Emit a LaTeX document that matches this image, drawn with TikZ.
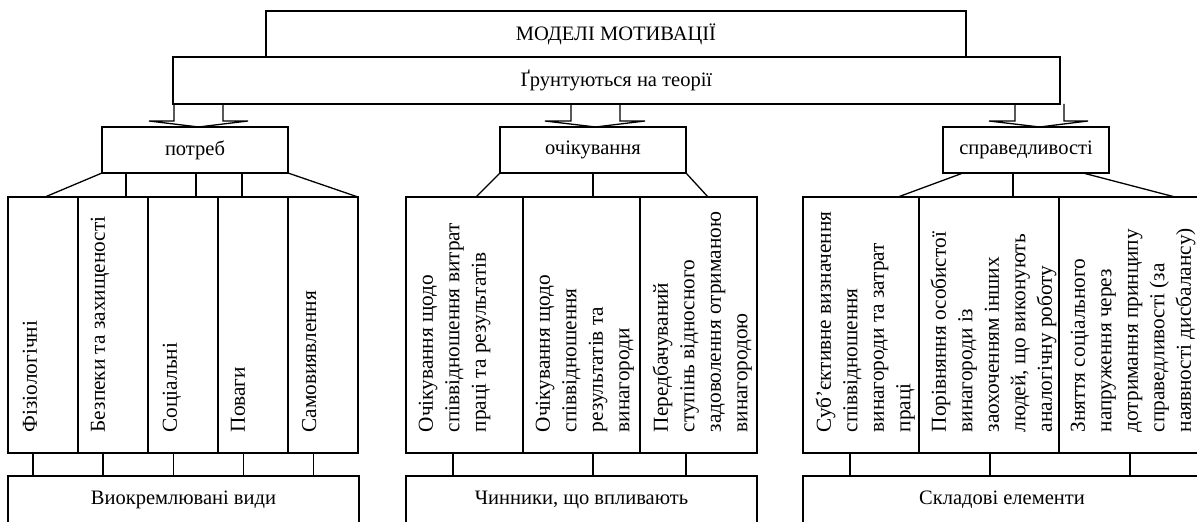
\documentclass[tikz,border=0pt]{standalone}
\usepackage{fontspec}
\setmainfont{Liberation Serif}
\usetikzlibrary{positioning,calc}

\begin{document}
\begin{tikzpicture}[x=1pt, y=1pt, line width=1.3pt,
  every node/.style={font=\fontsize{20.5}{25.5}\selectfont},
  box/.style={rectangle, draw, inner sep=0pt, outer sep=0pt, minimum height=46pt},
  kind/.style={box, minimum width=69.5pt, minimum height=256pt},
  item/.style={box, minimum height=256pt},
  vtext/.style={rotate=90, anchor=north west, align=left, inner sep=0pt, font=\fontsize{21.3}{26.5}\selectfont},
  basebox/.style={box, minimum height=48pt, anchor=north west}]
\useasboundingbox (0,0) rectangle (1197,522);

\node[box, minimum width=700pt] (models) at (616,488) {МОДЕЛІ МОТИВАЦІЇ};
\node[box, minimum width=887pt, minimum height=47pt] (osnova) at (616.4,441.5) {Ґрунтуються на теорії};

% theories
\node[box, minimum width=186pt] (needs) at (195,372) {потреб};
\node[box, minimum width=186pt] (expect) at (593,372) {очікування};
\node[box, minimum width=166pt] (justice) at (1026,372) {справедливості};

\draw (174,0 |- osnova.south) -- (174,401) -- (149,401) -- (198.5,0 |- needs.north) -- (248,401) -- (223,401) -- (223,0 |- osnova.south);
\draw (571,0 |- osnova.south) -- (571,401) -- (545,401) -- (595.5,0 |- expect.north) -- (645,401) -- (620,401) -- (620,0 |- osnova.south);
\draw (1015,0 |- osnova.south) -- (1015,401) -- (989,401) -- (1039.5,0 |- justice.north) -- (1088,401) -- (1064,401) -- (1064,0 |- osnova.south);

% needs
\node[kind, anchor=north west] (fiz) at (8,325) {};
\node[kind, right=0.6pt of fiz] (bezp) {};
\node[kind, right=0.6pt of bezp] (soc) {};
\node[kind, right=0.6pt of soc] (pov) {};
\node[kind, right=0.6pt of pov] (samo) {};
\node[vtext] (fiz-t) at ($(fiz.south west)+(14,20)$) {Фізіологічні};
\node[vtext] (bezp-t) at ($(bezp.south west)+(12,20)$) {Безпеки та захищеності};
\node[vtext] (soc-t) at ($(soc.south west)+(14,20)$) {Соціальні};
\node[vtext] (pov-t) at ($(pov.south west)+(12,20)$) {Поваги};
\node[vtext] (samo-t) at ($(samo.south west)+(13,20)$) {Самовиявлення};

\draw (needs.south west) -- ([xshift=37pt]fiz.north west);
\draw (126,0 |- needs.south) -- (126,0 |- bezp.north);
\draw (196,0 |- needs.south) -- (196,0 |- soc.north);
\draw (242,0 |- needs.south) -- (242,0 |- pov.north);
\draw (needs.south east) -- (samo.north east);

% expectations
\node[item, minimum width=117pt, anchor=north west] (exp1) at (406,325) {};
\node[item, minimum width=117pt, right=0pt of exp1] (exp2) {};
\node[item, minimum width=117pt, right=0pt of exp2] (exp3) {};
\node[vtext] (exp1-t) at ($(exp1.south west)+(12,20)$) {Очікування щодо\\співвідношення витрат\\праці та результатів};
\node[vtext] (exp2-t) at ($(exp2.south west)+(12,20)$) {Очікування щодо\\співвідношення\\результатів та\\винагороди};
\node[vtext] (exp3-t) at ($(exp3.south west)+(12,20)$) {Передбачуваний\\ступінь відносного\\задоволення отриманою\\винагородою};

\draw (expect.south west) -- ([xshift=70pt]exp1.north west);
\draw (593,0 |- expect.south) -- (593,0 |- exp2.north);
\draw (expect.south east) -- ([xshift=68pt]exp3.north west);

% justice
\node[item, minimum width=116pt, anchor=north west] (jus1) at (803,325) {};
\node[item, minimum width=140pt, right=0pt of jus1] (jus2) {};
\node[item, minimum width=142pt, right=0pt of jus2] (jus3) {};
\node[vtext] (jus1-t) at ($(jus1.south west)+(12,20)$) {Суб’єктивне визначення\\співвідношення\\винагороди та затрат\\праці};
\node[vtext] (jus2-t) at ($(jus2.south west)+(11,20)$) {Порівняння особистої\\винагороди із\\заохоченням інших\\людей, що виконують\\аналогічну роботу};
\node[vtext] (jus3-t) at ($(jus3.south west)+(11,20)$) {Зняття соціального\\напруження через\\дотримання принципу\\справедливості (за\\наявності дисбалансу)};

\draw (963,0 |- justice.south) -- ([xshift=95pt]jus1.north west);
\draw (1013,0 |- justice.south) -- (1013,0 |- jus2.north);
\draw (1083,0 |- justice.south) -- ([xshift=116pt]jus3.north west);

% bottom
\node[basebox, minimum width=351pt] (vydy) at (8,46) {Виокремлювані види};
\node[basebox, minimum width=351pt] (chynnyky) at (406,46) {Чинники, що впливають};
\node[basebox, minimum width=398pt] (sklad) at (803,46) {Складові елементи};

\draw ([xshift=25pt]fiz.south west) -- ([xshift=25pt]fiz.south west |- vydy.north);
\draw ([xshift=25pt]bezp.south west) -- ([xshift=25pt]bezp.south west |- vydy.north);
\draw ([xshift=25pt]soc.south west) -- ([xshift=25pt]soc.south west |- vydy.north);
\draw ([xshift=25pt]pov.south west) -- ([xshift=25pt]pov.south west |- vydy.north);
\draw ([xshift=25pt]samo.south west) -- ([xshift=25pt]samo.south west |- vydy.north);
\draw ([xshift=47pt]exp1.south west) -- ([xshift=47pt]exp1.south west |- chynnyky.north);
\draw ([xshift=70pt]exp2.south west) -- ([xshift=70pt]exp2.south west |- chynnyky.north);
\draw ([xshift=46pt]exp3.south west) -- ([xshift=46pt]exp3.south west |- chynnyky.north);
\draw ([xshift=47pt]jus1.south west) -- ([xshift=47pt]jus1.south west |- sklad.north);
\draw ([xshift=71pt]jus2.south west) -- ([xshift=71pt]jus2.south west |- sklad.north);
\draw ([xshift=71pt]jus3.south west) -- ([xshift=71pt]jus3.south west |- sklad.north);
\end{tikzpicture}
\end{document}
